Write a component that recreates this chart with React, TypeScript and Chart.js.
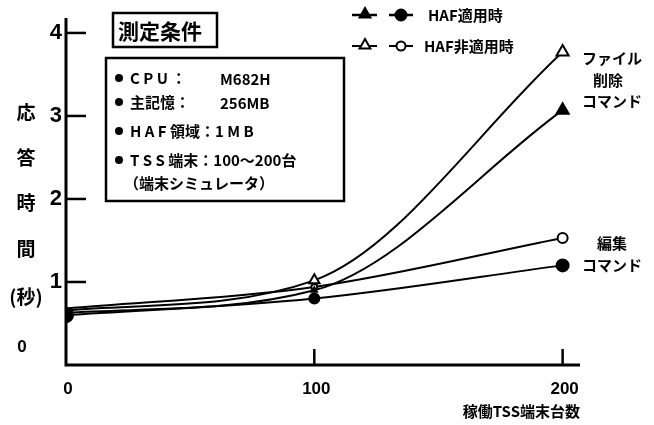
import React, { useEffect, useRef } from "react";
import { Chart, registerables } from "chart.js";

Chart.register(...registerables);

// ---- data ----
const terminalCounts = [0, 100, 200];
const fileDeleteHaf = [0.63, 0.9, 3.07];
const fileDeleteNoHaf = [0.66, 1.02, 3.77];
const editHaf = [0.6, 0.8, 1.2];
const editNoHaf = [0.68, 0.94, 1.53];
const yTickValues = [1, 2, 3, 4];
const xTickValues = [0, 100, 200];
const legendLabels = ["HAF適用時", "HAF非適用時"];
const conditionTitle = "測定条件";
const conditionRows = [
  ["C P U ：", "M682H"],
  ["主記憶：", "256MB"],
  ["H A F 領域：1 M B", ""],
  ["T S S 端末：100～200台", ""],
];
const conditionNote = "（端末シミュレータ）";
const yTitleChars = ["応", "答", "時", "間", "(秒)"];
const xTitle = "稼働TSS端末台数";

const JP = "'Noto Sans CJK JP', 'Noto Sans', sans-serif";
const NUM = "'Liberation Sans', Arial, sans-serif";
const INK = "#000";

function drawTri(ctx: CanvasRenderingContext2D, x: number, y: number, r: number, filled: boolean) {
  ctx.beginPath();
  ctx.moveTo(x, y - r);
  ctx.lineTo(x + r * 0.9, y + r * 0.6);
  ctx.lineTo(x - r * 0.9, y + r * 0.6);
  ctx.closePath();
  ctx.fillStyle = filled ? INK : "#fff";
  ctx.fill();
  ctx.lineWidth = 2;
  ctx.strokeStyle = INK;
  ctx.stroke();
}
function drawDot(ctx: CanvasRenderingContext2D, x: number, y: number, r: number, filled: boolean) {
  ctx.beginPath();
  ctx.arc(x, y, r, 0, Math.PI * 2);
  ctx.fillStyle = filled ? INK : "#fff";
  ctx.fill();
  ctx.lineWidth = 2;
  ctx.strokeStyle = INK;
  ctx.stroke();
}

const axesPlugin = {
  id: "axesPlugin",
  beforeDatasetsDraw(chart: any) {
    const ctx: CanvasRenderingContext2D = chart.ctx;
    const xs = chart.scales.x;
    const ys = chart.scales.y;
    const x0 = xs.getPixelForValue(0);
    const y0 = ys.getPixelForValue(0);
    ctx.save();
    ctx.strokeStyle = INK;
    ctx.lineCap = "butt";
    ctx.lineWidth = 3;
    ctx.beginPath();
    ctx.moveTo(x0, ys.getPixelForValue(ys.max));
    ctx.lineTo(x0, y0);
    ctx.lineTo(xs.getPixelForValue(xs.max), y0);
    ctx.stroke();
    ctx.lineWidth = 2.5;
    yTickValues.forEach((v) => {
      const py = ys.getPixelForValue(v);
      ctx.beginPath();
      ctx.moveTo(x0, py);
      ctx.lineTo(x0 + 20, py);
      ctx.stroke();
    });
    xTickValues.filter((v) => v > 0).forEach((v) => {
      const px = xs.getPixelForValue(v);
      ctx.beginPath();
      ctx.moveTo(px, y0);
      ctx.lineTo(px, y0 - 16);
      ctx.stroke();
    });
    ctx.restore();
  },
  afterDraw(chart: any) {
    const ctx: CanvasRenderingContext2D = chart.ctx;
    const xs = chart.scales.x;
    const ys = chart.scales.y;
    const x0 = xs.getPixelForValue(0);
    const y0 = ys.getPixelForValue(0);
    ctx.save();
    ctx.fillStyle = INK;
    ctx.font = `bold 22px ${NUM}`;
    ctx.textAlign = "right";
    ctx.textBaseline = "middle";
    yTickValues.forEach((v) => {
      ctx.fillText(String(v), x0 - 4, ys.getPixelForValue(v));
    });
    ctx.font = `bold 17px ${NUM}`;
    ctx.textAlign = "center";
    ctx.fillText("0", 22, y0 - 18);
    ctx.font = `bold 17px ${NUM}`;
    xTickValues.forEach((v) => {
      ctx.fillText(String(v), xs.getPixelForValue(v) + 2, y0 + 24);
    });
    ctx.font = `bold 15px ${JP}`;
    ctx.textAlign = "right";
    ctx.fillText(xTitle, 580, 411);
    ctx.font = `bold 19px ${JP}`;
    ctx.textAlign = "center";
    const yPos = [113, 158, 203, 249, 297];
    yTitleChars.forEach((c, i) => ctx.fillText(c, 26, yPos[i]));

    // legend
    ctx.strokeStyle = INK;
    ctx.lineWidth = 2.5;
    const rows = [15, 46];
    rows.forEach((ry, i) => {
      const filled = i === 0;
      ctx.beginPath();
      ctx.moveTo(352, ry);
      ctx.lineTo(377, ry);
      ctx.moveTo(389, ry);
      ctx.lineTo(413, ry);
      ctx.stroke();
      drawTri(ctx, 365, ry - 1, 6, filled);
      drawDot(ctx, 401, ry, filled ? 5.5 : 4.5, filled);
      ctx.fillStyle = INK;
      ctx.font = `bold 15px ${JP}`;
      ctx.textAlign = "left";
      ctx.textBaseline = "middle";
      ctx.fillText(legendLabels[i], i === 0 ? 428 : 424, ry);
    });

    // condition title box
    ctx.lineWidth = 2.5;
    ctx.strokeRect(113, 13, 104, 34);
    ctx.font = `bold 21px ${JP}`;
    ctx.textAlign = "left";
    ctx.fillText(conditionTitle, 118, 31);
    // condition box
    ctx.strokeRect(106, 58, 238, 143);
    ctx.font = `bold 15px ${JP}`;
    const rowY = [78, 102, 131, 160];
    conditionRows.forEach((r, i) => {
      ctx.beginPath();
      ctx.arc(119, rowY[i], 4, 0, Math.PI * 2);
      ctx.fill();
      ctx.fillText(r[0], 130, rowY[i]);
      if (r[1]) ctx.fillText(r[1], 220, rowY[i] + 1);
    });
    ctx.fillText(conditionNote, 124, 183);

    // right side labels
    ctx.textAlign = "center";
    ctx.fillText("ファイル", 612, 58);
    ctx.fillText("削除", 608, 80);
    ctx.fillText("コマンド", 612, 101);
    ctx.fillText("編集", 612, 243);
    ctx.fillText("コマンド", 612, 265);
    ctx.restore();
  },
};

function pts(vals: number[]) {
  return terminalCounts.map((x, i) => ({ x, y: vals[i] }));
}

export default function App() {
  const ref = useRef<HTMLCanvasElement | null>(null);
  useEffect(() => {
    document.body.style.margin = "0";
    if (!ref.current) return;
    const common = {
      borderColor: INK,
      borderWidth: 2,
      pointBorderColor: INK,
      pointBorderWidth: 2,
      fill: false,
      cubicInterpolationMode: "monotone",
    };
    const chart = new Chart(ref.current, {
      type: "line",
      data: {
        datasets: [
          {
            ...common,
            label: "ファイル削除 HAF非適用時",
            data: pts(fileDeleteNoHaf),
            pointStyle: "triangle",
            pointRadius: [0, 6, 7],
            pointBackgroundColor: "#fff",
          },
          {
            ...common,
            label: "ファイル削除 HAF適用時",
            data: pts(fileDeleteHaf),
            pointStyle: "triangle",
            pointRadius: [0, 3, 7],
            pointBackgroundColor: INK,
          },
          {
            ...common,
            label: "編集 HAF非適用時",
            data: pts(editNoHaf),
            pointStyle: "circle",
            pointRadius: [0, 3, 5],
            pointBackgroundColor: "#fff",
          },
          {
            ...common,
            label: "編集 HAF適用時",
            data: pts(editHaf),
            pointStyle: "circle",
            pointRadius: [7, 5, 6],
            pointBackgroundColor: INK,
          },
        ],
      },
      options: {
        animation: false,
        responsive: true,
        maintainAspectRatio: false,
        layout: { padding: { left: 66, top: 18, right: 74, bottom: 60 } },
        plugins: { legend: { display: false }, tooltip: { enabled: false }, title: { display: false } },
        scales: {
          x: { type: "linear", min: 0, max: 207, display: false },
          y: { type: "linear", min: 0, max: 4.18, display: false },
        },
      },
      plugins: [axesPlugin],
    } as any);
    return () => chart.destroy();
  }, []);
  return (
    <div style={{ width: 654, height: 425, position: "relative", background: "#fff" }}>
      <canvas ref={ref} />
    </div>
  );
}
